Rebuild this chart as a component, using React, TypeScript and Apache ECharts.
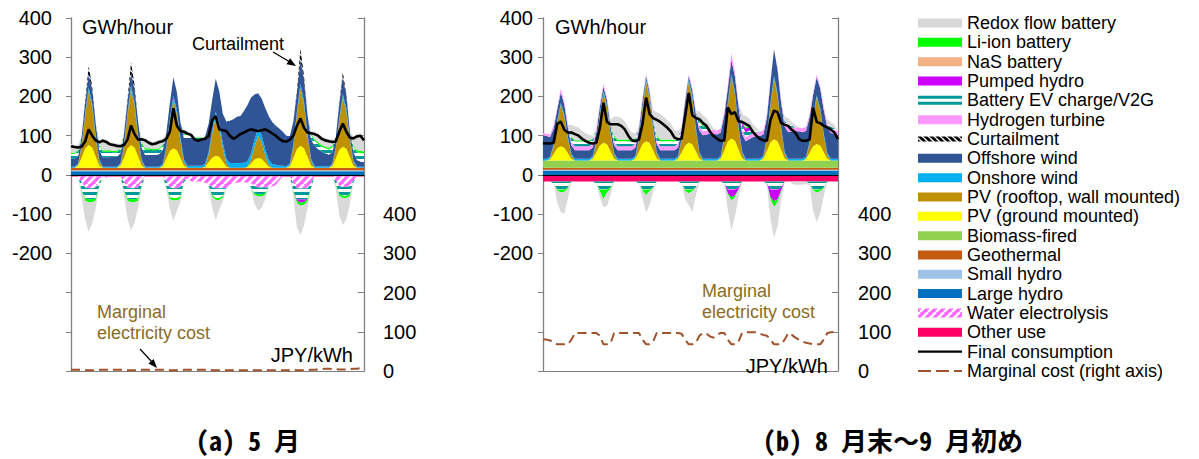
import React, { useEffect, useRef } from 'react';
import * as echarts from 'echarts';

// ---------- categories: hour of the week (2-hour steps, odd hours) ----------
const hours: string[] = Array.from({ length: 84 }, (_, i) => String(2 * i + 1));

// ---------- Panel (a) May, GWh/hour ----------
const aLargeHydro = [
  9,9,9,9,9,9,9,9,9,9,9,9, 9,9,9,9,9,9,9,9,9,9,9,9, 9,9,9,9,9,9,9,9,9,9,9,9,
  9,9,9,9,9,9,9,9,9,9,9,9, 9,9,9,9,9,9,9,9,9,9,9,9, 9,9,9,9,9,9,9,9,9,9,9,9,
  9,9,9,9,9,9,9,9,9,9,9,9,
];
const aSmallHydro = [
  3,3,3,3,3,3,3,3,3,3,3,3, 3,3,3,3,3,3,3,3,3,3,3,3, 3,3,3,3,3,3,3,3,3,3,3,3,
  3,3,3,3,3,3,3,3,3,3,3,3, 3,3,3,3,3,3,3,3,3,3,3,3, 3,3,3,3,3,3,3,3,3,3,3,3,
  3,3,3,3,3,3,3,3,3,3,3,3,
];
const aGeothermal = [
  6,6,6,6,6,6,6,6,6,6,6,6, 6,6,6,6,6,6,6,6,6,6,6,6, 6,6,6,6,6,6,6,6,6,6,6,6,
  6,6,6,6,6,6,6,6,6,6,6,6, 6,6,6,6,6,6,6,6,6,6,6,6, 6,6,6,6,6,6,6,6,6,6,6,6,
  6,6,6,6,6,6,6,6,6,6,6,6,
];
const aPvGround = [
  0,0,5,26,49,58,52,29,6,0,0,0,
  0,0,5,26,49,58,52,29,6,0,0,0,
  0,0,4,23,43,50,45,25,5,0,0,0,
  0,0,2,14,26,31,28,16,3,0,0,0,
  0,0,2,11,21,25,23,13,3,0,0,0,
  0,0,4,25,48,56,50,28,6,0,0,0,
  0,0,4,24,46,54,49,27,5,0,0,0,
];
const aPvRoof = [
  0,0,3,28,83,138,104,48,11,0,0,0,
  0,0,3,28,85,142,107,50,11,0,0,0,
  0,0,2,25,74,124,93,43,10,0,0,0,
  0,0,2,20,60,100,75,35,8,0,0,0,
  0,0,1,11,34,57,43,20,5,0,0,0,
  0,0,3,30,89,148,111,52,12,0,0,0,
  0,0,3,25,75,125,94,44,10,0,0,0,
];
const aOnshore = [
  3,3,3,4,6,9,8,6,4,3,3,3,
  3,3,3,4,6,9,8,6,4,3,3,3,
  3,3,4,5,7,10,10,8,6,5,5,5,
  5,5,6,7,9,12,12,12,12,12,12,12,
  12,13,14,15,17,18,17,15,13,10,8,6,
  5,4,4,5,7,10,9,7,5,4,4,4,
  4,3,3,4,6,9,8,6,4,3,3,3,
];
const aOffshore = [
  20,20,20,22,26,34,36,30,25,24,24,24,
  25,25,26,27,29,32,34,33,31,30,30,30,
  30,32,34,36,40,47,45,40,55,72,72,70,
  68,68,70,72,78,84,80,75,95,108,112,118,
  120,132,143,142,115,90,94,105,111,107,99,94,
  87,78,70,59,48,62,55,48,50,52,44,37,
  33,31,29,25,36,45,34,16,22,17,13,12,
];
const aCurtail = [
  0,0,0,0,5,20,8,0,0,0,0,0,
  0,0,0,0,6,28,10,0,0,0,0,0,
  0,0,0,0,0,0,0,0,0,0,0,0,
  0,0,0,0,0,0,0,0,0,0,0,0,
  0,0,0,0,0,0,0,0,0,0,0,0,
  0,0,0,0,6,28,10,0,0,0,0,0,
  0,0,0,0,3,10,4,0,0,0,0,0,
];
const aEvPos = [
  12,12,12,0,0,0,0,0,10,14,14,14,
  12,12,12,0,0,0,0,0,10,13,13,12,
  12,12,12,0,0,0,0,0,8,8,7,2,
  4,4,0,0,0,0,0,0,0,0,0,0,
  0,0,0,0,0,0,0,0,0,0,0,0,
  0,0,0,0,0,0,0,0,10,13,13,13,
  13,13,13,0,0,0,0,0,12,20,22,22,
];
const aLiPos = [
  3,3,3,0,0,0,0,0,3,4,4,4,
  3,3,3,0,0,0,0,0,3,4,4,3,
  3,3,3,0,0,0,0,0,3,3,2,1,
  1,1,0,0,0,0,0,0,0,0,0,0,
  0,0,0,0,0,0,0,0,0,0,0,0,
  0,0,0,0,0,0,0,0,3,4,4,4,
  4,4,4,0,0,0,0,0,3,5,5,5,
];
const aRedoxPos = [
  23,21,12,0,0,0,0,0,11,30,27,21,
  21,19,9,0,0,0,0,0,13,26,20,18,
  20,22,15,0,0,0,0,0,10,5,4,0,
  2,1,0,0,0,0,0,0,0,0,0,0,
  0,0,0,0,0,0,0,0,0,0,0,0,
  0,0,0,0,0,0,0,0,7,19,23,22,
  22,23,16,0,0,0,0,0,24,41,45,34,
];
const aOtherUse = [
  -4,-4,-4,-4,-4,-4,-4,-4,-4,-4,-4,-4, -4,-4,-4,-4,-4,-4,-4,-4,-4,-4,-4,-4,
  -4,-4,-4,-4,-4,-4,-4,-4,-4,-4,-4,-4, -4,-4,-4,-4,-4,-4,-4,-4,-4,-4,-4,-4,
  -4,-4,-4,-4,-4,-4,-4,-4,-4,-4,-4,-4, -4,-4,-4,-4,-4,-4,-4,-4,-4,-4,-4,-4,
  -4,-4,-4,-4,-4,-4,-4,-4,-4,-4,-4,-4,
];
const aElectrolysis = [
  0,0,0,-15,-28,-30,-30,-28,-15,0,-3,0,
  0,0,0,-15,-28,-30,-30,-28,-15,0,0,0,
  0,0,0,-12,-28,-30,-30,-26,-10,-5,-12,-15,
  -12,-14,-16,-20,-28,-30,-30,-30,-30,-25,-18,-16,
  -15,-15,-16,-18,-25,-28,-28,-28,-28,-26,-22,-10,
  0,0,0,-18,-30,-31,-31,-30,-18,0,0,0,
  0,0,0,-10,-25,-27,-27,-25,-10,0,0,0,
];
const aEvNeg = [
  0,0,0,-20,-28,-28,-28,-28,-10,0,0,0,
  0,0,0,-20,-28,-28,-28,-28,-10,0,0,0,
  0,0,0,-15,-25,-25,-25,-25,-5,0,0,0,
  0,0,0,-5,-20,-25,-25,-20,0,0,0,0,
  0,0,0,-10,-18,-18,-18,-15,0,0,0,0,
  0,0,0,-20,-28,-28,-28,-28,-10,0,0,0,
  0,0,0,-10,-20,-22,-22,-20,-5,0,0,0,
];
const aPumpNeg = [
  0,0,0,0,0,0,0,0,0,0,0,0,
  0,0,0,0,0,0,0,0,0,0,0,0,
  0,0,0,0,0,0,0,0,0,0,0,0,
  0,0,0,0,0,0,0,0,0,0,0,0,
  0,0,0,0,0,0,0,0,0,0,0,0,
  0,0,0,0,-4,-8,-6,0,0,0,0,0,
  0,0,0,0,0,0,0,0,0,0,0,0,
];
const aLiNeg = [
  0,0,0,-3,-6,-8,-8,-6,-2,0,0,0,
  0,0,0,-3,-6,-8,-8,-6,-2,0,0,0,
  0,0,0,-2,-5,-6,-6,-5,0,0,0,0,
  0,0,0,0,-4,-5,-5,-4,0,0,0,0,
  0,0,0,0,-4,-5,-5,-4,0,0,0,0,
  0,0,0,-3,-6,-8,-8,-6,-2,0,0,0,
  0,0,0,-2,-5,-6,-6,-5,0,0,0,0,
];
const aRedoxNeg = [
  0,0,0,-15,-48,-75,-54,-20,0,0,0,0,
  0,0,0,-12,-45,-72,-52,-18,0,0,0,0,
  0,0,0,-5,-23,-52,-26,-10,0,0,0,0,
  0,0,0,0,-27,-51,-25,-10,0,0,0,0,
  0,0,0,-5,-24,-35,-29,-12,0,0,0,0,
  0,0,0,-12,-62,-74,-52,-16,0,0,0,0,
  0,0,0,-8,-50,-69,-55,-20,0,0,0,0,
];
const aConsumption = [
  73,71,70,72,85,116,100,88,83,87,84,78,
  76,74,73,76,90,126,104,90,91,88,82,78,
  80,84,86,92,110,170,125,112,110,105,102,90,
  87,90,92,100,140,150,116,114,112,100,92,97,
  104,108,113,116,114,112,114,116,112,106,100,92,
  86,85,90,100,125,144,120,108,106,104,100,92,
  88,86,84,85,110,131,110,95,93,98,100,88,
];
const aMarginal = [
  3,3,3,3,2,2,2,2,3,3,3,3,
  3,3,3,3,2,2,2,2,3,3,3,3,
  3,3,3,3,2,2,2,2,3,3,3,3,
  3,3,3,3,2,2,2,2,2,2,2,2,
  2,2,2,2,2,2,2,2,2,2,2,2,
  2,2,2,3,2,2,2,2,3,3,4,5,
  6,6,5,5,4,4,4,5,6,6,7,7,
];

// ---------- Panel (b) end of Aug - early Sep, GWh/hour ----------
const bLargeHydro = [
  10,10,10,10,10,10,10,10,10,10,10,10, 10,10,10,10,10,10,10,10,10,10,10,10,
  10,10,10,10,10,10,10,10,10,10,10,10, 10,10,10,10,10,10,10,10,10,10,10,10,
  10,10,10,10,10,10,10,10,10,10,10,10, 10,10,10,10,10,10,10,10,10,10,10,10,
  10,10,10,10,10,10,10,10,10,10,10,10,
];
const bSmallHydro = [
  3,3,3,3,3,3,3,3,3,3,3,3, 3,3,3,3,3,3,3,3,3,3,3,3, 3,3,3,3,3,3,3,3,3,3,3,3,
  3,3,3,3,3,3,3,3,3,3,3,3, 3,3,3,3,3,3,3,3,3,3,3,3, 3,3,3,3,3,3,3,3,3,3,3,3,
  3,3,3,3,3,3,3,3,3,3,3,3,
];
const bGeothermal = [
  5,5,5,5,5,5,5,5,5,5,5,5, 5,5,5,5,5,5,5,5,5,5,5,5, 5,5,5,5,5,5,5,5,5,5,5,5,
  5,5,5,5,5,5,5,5,5,5,5,5, 5,5,5,5,5,5,5,5,5,5,5,5, 5,5,5,5,5,5,5,5,5,5,5,5,
  5,5,5,5,5,5,5,5,5,5,5,5,
];
const bBiomass = [
  19,19,19,19,19,19,19,19,19,19,19,19, 19,19,19,19,19,19,19,19,19,19,19,19,
  19,19,19,19,19,19,19,19,19,19,19,19, 19,19,19,19,19,19,19,19,19,19,19,19,
  19,19,19,19,19,19,19,19,19,19,19,19, 19,19,19,19,19,19,19,19,19,19,19,19,
  19,19,19,19,19,19,19,19,19,19,19,19,
];
const bPvGround = [
  0,0,3,16,31,36,32,18,4,0,0,0,
  0,0,4,20,38,45,41,23,5,0,0,0,
  0,0,4,22,42,49,44,25,5,0,0,0,
  0,0,4,20,38,45,41,23,5,0,0,0,
  0,0,4,25,48,56,50,28,6,0,0,0,
  0,0,4,24,46,54,49,27,5,0,0,0,
  0,0,3,19,36,42,38,21,4,0,0,0,
];
const bPvRoof = [
  0,0,2,21,63,105,79,37,8,0,0,0,
  0,0,3,25,76,126,95,44,10,0,0,0,
  0,0,3,30,91,152,114,53,12,0,0,0,
  0,0,3,31,94,156,117,55,12,0,0,0,
  0,0,3,31,94,157,118,55,13,0,0,0,
  0,0,3,31,93,155,116,54,12,0,0,0,
  0,0,2,24,71,119,89,42,10,0,0,0,
];
const bOnshore = [
  4,4,4,4,5,6,6,5,4,4,4,4,
  4,4,4,4,5,6,6,5,4,4,4,4,
  4,4,4,4,5,6,6,5,4,4,4,4,
  4,4,4,4,5,6,6,5,4,4,4,4,
  4,4,4,4,6,7,6,5,4,4,4,4,
  4,4,4,4,6,7,6,5,4,4,4,4,
  4,4,4,4,5,6,6,5,4,4,4,4,
];
const bOffshore = [
  60,58,50,40,30,26,25,24,22,22,22,22,
  22,22,22,22,18,11,12,15,20,22,22,22,
  22,22,22,22,15,8,10,15,20,22,22,22,
  22,22,22,22,15,8,15,35,55,60,62,64,
  64,62,60,55,35,35,40,50,45,45,50,55,
  58,58,55,50,55,67,60,60,65,68,70,70,
  70,68,66,62,55,45,50,60,65,66,64,60,
];
const bHydrogen = [
  6,6,7,8,6,10,8,6,8,10,10,10,
  10,10,10,9,6,6,6,6,8,10,10,10,
  10,10,10,9,6,5,6,6,8,10,10,10,
  10,10,10,9,6,4,6,8,10,10,10,10,
  10,10,10,8,8,18,10,8,10,10,10,10,
  10,10,10,8,5,0,3,8,10,10,10,10,
  10,10,10,8,6,7,6,8,10,10,10,10,
];
const bEvPos = [
  0,0,0,0,0,0,0,0,12,12,12,12,
  12,12,10,0,0,0,0,0,13,13,13,13,
  13,12,12,0,0,0,0,3,12,13,13,13,
  13,12,12,0,0,0,0,0,12,12,10,2,
  0,0,0,0,0,0,0,0,12,12,12,8,
  3,0,0,0,0,0,0,0,5,10,5,0,
  0,0,0,0,0,0,0,0,0,6,4,0,
];
const bPumpPos = [
  0,0,0,0,0,0,0,0,0,0,0,0,
  0,0,0,0,0,0,0,0,0,0,0,0,
  0,0,0,0,0,0,0,0,0,0,0,0,
  0,0,0,0,0,0,0,0,0,0,0,0,
  0,0,0,0,0,0,0,0,6,10,8,0,
  0,0,0,0,0,0,0,0,0,0,0,0,
  0,0,0,0,0,0,0,0,0,0,0,0,
];
const bLiPos = [
  0,0,0,0,0,0,0,0,3,3,3,3,
  3,3,2,0,0,0,0,0,4,4,4,4,
  4,3,3,0,0,0,0,0,3,4,4,4,
  4,3,3,0,0,0,0,0,3,3,3,1,
  0,0,0,0,0,0,0,0,3,3,3,2,
  0,0,0,0,0,0,0,0,0,0,0,0,
  0,0,0,0,0,0,0,0,0,0,0,0,
];
const bRedoxPos = [
  0,0,0,0,0,0,0,0,30,36,32,24,
  18,14,8,0,0,0,0,10,48,59,55,46,
  30,20,11,0,0,0,0,21,59,65,58,50,
  40,27,16,0,0,0,0,0,24,26,19,12,
  4,0,0,0,0,0,0,0,19,29,21,14,
  8,3,0,0,0,0,0,0,10,16,9,7,
  0,0,0,0,0,0,0,0,11,12,9,0,
];
const bOtherUse = [
  -17,-17,-17,-17,-17,-17,-17,-17,-17,-17,-17,-17, -17,-17,-17,-17,-17,-17,-17,-17,-17,-17,-17,-17,
  -17,-17,-17,-17,-17,-17,-17,-17,-17,-17,-17,-17, -17,-17,-17,-17,-17,-17,-17,-17,-17,-17,-17,-17,
  -17,-17,-17,-17,-17,-17,-17,-17,-17,-17,-17,-17, -17,-17,-17,-17,-17,-17,-17,-17,-17,-17,-17,-17,
  -17,-17,-17,-17,-17,-17,-17,-17,-17,-17,-17,-17,
];
const bEvNeg = [
  0,0,0,-5,-20,-20,-20,-15,0,0,0,0,
  0,0,0,-5,-20,-20,-20,-15,0,0,0,0,
  0,0,0,-5,-20,-20,-20,-15,0,0,0,0,
  0,0,0,-5,-20,-20,-20,-15,0,0,0,0,
  0,0,0,-5,-20,-20,-20,-15,0,0,0,0,
  0,0,0,-5,-20,-20,-20,-15,0,0,0,0,
  0,0,0,-5,-20,-20,-20,-15,0,0,0,0,
];
const bPumpNeg = [
  0,0,0,0,0,0,0,0,0,0,0,0,
  0,0,0,0,0,0,0,0,0,0,0,0,
  0,0,0,0,0,0,0,0,0,0,0,0,
  0,0,0,0,0,0,0,0,0,0,0,0,
  0,0,0,0,-10,-20,-15,-5,0,0,0,0,
  0,0,0,0,-20,-30,-25,-8,0,0,0,0,
  0,0,0,0,0,0,0,0,0,0,0,0,
];
const bLiNeg = [
  0,0,0,0,-3,-8,-6,-3,0,0,0,0,
  0,0,0,0,-5,-25,-8,-3,0,0,0,0,
  0,0,0,0,-3,-15,-5,0,0,0,0,0,
  0,0,0,0,-5,-10,-5,0,0,0,0,0,
  0,0,0,0,-3,-8,-5,0,0,0,0,0,
  0,0,0,0,-5,-15,-8,-3,0,0,0,0,
  0,0,0,0,-3,-8,-5,-2,0,0,0,0,
];
const bRedoxNeg = [
  0,0,0,0,-30,-50,-56,-25,0,0,0,0,
  0,0,0,0,-15,-20,-35,-15,0,0,0,0,
  0,0,0,0,-20,-43,-35,-10,0,0,0,0,
  0,0,0,0,-20,-30,-53,-20,0,0,0,0,
  0,0,0,0,-40,-76,-50,-20,0,0,0,0,
  0,0,0,-5,-50,-79,-60,-20,0,0,-5,-8,
  -8,-8,-6,-5,-50,-75,-55,-20,0,0,0,0,
];
const bConsumption = [
  81,80,80,82,130,136,115,108,108,104,100,92,
  86,82,80,82,120,184,135,129,129,129,125,116,
  100,88,86,90,130,197,155,145,140,135,128,120,
  110,95,91,92,150,209,152,145,142,132,125,110,
  99,92,87,88,172,155,160,137,135,130,125,110,
  100,92,88,87,140,164,160,132,128,125,115,108,
  92,87,87,90,171,135,132,125,121,115,108,91,
];
const bMarginal = [
  80,80,78,72,68,68,68,68,80,97,97,97,
  97,97,97,97,90,68,68,70,97,97,97,97,
  97,97,97,97,80,68,68,75,97,97,97,97,
  97,97,97,95,80,68,68,72,90,97,95,88,
  85,92,97,97,80,68,68,75,97,99,99,99,
  99,95,92,90,80,68,68,68,80,97,92,85,
  80,75,72,70,68,68,68,80,97,99,99,99,
];

// ---------- legend labels ----------
const legendLabels = [
  'Redox flow battery', 'Li-ion battery', 'NaS battery', 'Pumped hydro',
  'Battery EV charge/V2G', 'Hydrogen turbine', 'Curtailment', 'Offshore wind',
  'Onshore wind', 'PV (rooftop, wall mounted)', 'PV (ground mounted)', 'Biomass-fired',
  'Geothermal', 'Small hydro', 'Large hydro', 'Water electrolysis', 'Other use',
  'Final consumption', 'Marginal cost (right axis)',
];

const C = {
  redox: '#D9D9D9', li: '#00FF00', nas: '#F4B183', pump: '#CC00FF', ev: '#009999',
  h2: '#FF99FF', off: '#2F5597', on: '#00B0F0', pvr: '#BF9000', pvg: '#FFFF00',
  bio: '#92D050', geo: '#C55A11', sh: '#9DC3E6', lh: '#0070C0', elec: '#FF66FF',
  other: '#FF0066', mc: '#A0522D',
};

const FONT = '"Liberation Sans", Arial, sans-serif';

function makePattern(kind: string): any {
  const c = document.createElement('canvas');
  const ctx = c.getContext('2d') as CanvasRenderingContext2D;
  if (kind === 'ev') {
    c.width = 4; c.height = 6;
    ctx.fillStyle = '#ffffff'; ctx.fillRect(0, 0, 4, 6);
    ctx.fillStyle = C.ev; ctx.fillRect(0, 0, 4, 3);
  } else if (kind === 'elec') {
    c.width = 8; c.height = 8;
    ctx.fillStyle = C.elec; ctx.fillRect(0, 0, 8, 8);
    ctx.strokeStyle = '#ffffff'; ctx.lineWidth = 2.6;
    for (let k = -8; k <= 16; k += 8) {
      ctx.beginPath(); ctx.moveTo(k, 8); ctx.lineTo(k + 8, 0); ctx.stroke();
    }
  } else {
    c.width = 6; c.height = 6;
    ctx.fillStyle = '#000000'; ctx.fillRect(0, 0, 6, 6);
    ctx.strokeStyle = '#ffffff'; ctx.lineWidth = 1.4;
    for (let k = -6; k <= 12; k += 6) {
      ctx.beginPath(); ctx.moveTo(k, 0); ctx.lineTo(k + 6, 6); ctx.stroke();
    }
  }
  return { image: c, repeat: 'repeat', imageWidth: c.width, imageHeight: c.height };
}

function buildOption() {
  const pEv = makePattern('ev');
  const pElec = makePattern('elec');
  const pCur = makePattern('curtail');

  type Band = [string, number[], any, string];
  const bandsA: Band[] = [
    ['Large hydro', aLargeHydro, C.lh, 'pos'],
    ['Small hydro', aSmallHydro, C.sh, 'pos'],
    ['Geothermal', aGeothermal, C.geo, 'pos'],
    ['PV (ground mounted)', aPvGround, C.pvg, 'pos'],
    ['PV (rooftop, wall mounted)', aPvRoof, C.pvr, 'pos'],
    ['Onshore wind', aOnshore, C.on, 'pos'],
    ['Offshore wind', aOffshore, C.off, 'pos'],
    ['Curtailment', aCurtail, pCur, 'pos'],
    ['Battery EV charge/V2G', aEvPos, pEv, 'pos'],
    ['Li-ion battery', aLiPos, C.li, 'pos'],
    ['Redox flow battery', aRedoxPos, C.redox, 'pos'],
    ['Other use', aOtherUse, C.other, 'neg'],
    ['Water electrolysis', aElectrolysis, pElec, 'neg'],
    ['Battery EV charge/V2G', aEvNeg, pEv, 'neg'],
    ['Pumped hydro', aPumpNeg, C.pump, 'neg'],
    ['Li-ion battery', aLiNeg, C.li, 'neg'],
    ['Redox flow battery', aRedoxNeg, C.redox, 'neg'],
  ];
  const bandsB: Band[] = [
    ['Large hydro', bLargeHydro, C.lh, 'pos'],
    ['Small hydro', bSmallHydro, C.sh, 'pos'],
    ['Geothermal', bGeothermal, C.geo, 'pos'],
    ['Biomass-fired', bBiomass, C.bio, 'pos'],
    ['PV (ground mounted)', bPvGround, C.pvg, 'pos'],
    ['PV (rooftop, wall mounted)', bPvRoof, C.pvr, 'pos'],
    ['Onshore wind', bOnshore, C.on, 'pos'],
    ['Offshore wind', bOffshore, C.off, 'pos'],
    ['Hydrogen turbine', bHydrogen, C.h2, 'pos'],
    ['Battery EV charge/V2G', bEvPos, pEv, 'pos'],
    ['Pumped hydro', bPumpPos, C.pump, 'pos'],
    ['Li-ion battery', bLiPos, C.li, 'pos'],
    ['Redox flow battery', bRedoxPos, C.redox, 'pos'],
    ['Other use', bOtherUse, C.other, 'neg'],
    ['Battery EV charge/V2G', bEvNeg, pEv, 'neg'],
    ['Pumped hydro', bPumpNeg, C.pump, 'neg'],
    ['Li-ion battery', bLiNeg, C.li, 'neg'],
    ['Redox flow battery', bRedoxNeg, C.redox, 'neg'],
  ];

  const panelSeries = (p: number, bands: Band[], cons: number[], mc: number[]) => {
    const xi = p * 2;
    const yi = p * 2;
    const out: any[] = bands.map(([name, data, color, stack]) => ({
      name, type: 'line', xAxisIndex: xi, yAxisIndex: yi, stack: stack + p,
      data, symbol: 'none', silent: true, z: 2,
      lineStyle: { width: 0, opacity: 0 },
      areaStyle: { color, opacity: 1 },
    }));
    out.push({
      name: 'Final consumption', type: 'line', xAxisIndex: xi, yAxisIndex: yi, data: cons,
      symbol: 'none', silent: true, z: 5, lineStyle: { color: '#000', width: 2.6 },
    });
    out.push({
      name: 'Marginal cost (right axis)', type: 'line', xAxisIndex: xi, yAxisIndex: yi + 1, data: mc,
      symbol: 'none', silent: true, z: 5, lineStyle: { color: C.mc, width: 2, type: [9, 5] },
    });
    return out;
  };

  const grids = [
    { left: 71, top: 18, width: 293, height: 353 },
    { left: 543, top: 18, width: 295, height: 353 },
  ];
  const xAxes: any[] = [];
  const yAxes: any[] = [];
  const lblMargins = [[19, 19], [10, 20]];
  [0, 1].forEach((g) => {
    xAxes.push({
      gridIndex: g, type: 'category', data: hours, boundaryGap: false, z: 10,
      axisLine: { onZero: true, onZeroAxisIndex: g * 2, lineStyle: { color: '#000', width: 1 } },
      axisTick: { show: false }, axisLabel: { show: false }, splitLine: { show: false },
    });
    xAxes.push({
      gridIndex: g, type: 'category', data: hours, boundaryGap: false, position: 'bottom',
      axisLine: { onZero: false, lineStyle: { color: '#808080', width: 1 } },
      axisTick: { show: false }, axisLabel: { show: false }, splitLine: { show: false },
    });
    yAxes.push({
      gridIndex: g, type: 'value', min: -500, max: 400, interval: 100, position: 'left',
      axisLine: { show: true, lineStyle: { color: '#808080', width: 1.3 } },
      axisTick: { show: true, length: 5, lineStyle: { color: '#808080' } },
      splitLine: { show: false },
      axisLabel: {
        color: '#000', fontSize: 20, fontFamily: FONT, margin: lblMargins[g][0],
        formatter: (v: number) => (v >= -200 ? String(v) : ''),
      },
    });
    yAxes.push({
      gridIndex: g, type: 'value', min: 0, max: 900, interval: 100, position: 'right',
      axisLine: { show: true, lineStyle: { color: '#808080', width: 1.3 } },
      axisTick: { show: true, inside: true, length: 6, lineStyle: { color: '#808080' } },
      splitLine: { show: false },
      axisLabel: {
        color: '#000', fontSize: 20, fontFamily: FONT, margin: lblMargins[g][1],
        formatter: (v: number) => (v <= 400 ? String(v) : ''),
      },
    });
  });

  // ---------- graphic: annotations, legend, titles ----------
  const els: any[] = [];
  const txt = (x: number, y: number, text: string, size: number, color = '#000', align = 'left', font = FONT, weight = 'normal') => ({
    type: 'text', x, y, z: 100, silent: true,
    style: {
      text, fill: color, font: `${weight} ${size}px ${font}`,
      textAlign: align, textVerticalAlign: 'middle',
    },
  });
  els.push(txt(82, 27, 'GWh/hour', 20));
  els.push(txt(555, 27, 'GWh/hour', 20));
  els.push(txt(192, 44, 'Curtailment', 18));
  els.push({ type: 'line', z: 100, silent: true, shape: { x1: 273, y1: 52, x2: 290, y2: 62 }, style: { stroke: '#000', lineWidth: 1.2 } });
  els.push({ type: 'polygon', z: 100, silent: true, shape: { points: [[296, 66], [286.5, 64.3], [290.1, 58.3]] }, style: { fill: '#000' } });
  const mcTxt = '#8C6C1E';
  els.push(txt(97, 312, 'Marginal', 18, mcTxt));
  els.push(txt(97, 333, 'electricity cost', 18, mcTxt));
  els.push({ type: 'line', z: 100, silent: true, shape: { x1: 140, y1: 349, x2: 152, y2: 362 }, style: { stroke: '#000', lineWidth: 1.2 } });
  els.push({ type: 'polygon', z: 100, silent: true, shape: { points: [[157, 368], [148.4, 363.6], [153.6, 359]] }, style: { fill: '#000' } });
  els.push(txt(353, 355, 'JPY/kWh', 20, '#000', 'right'));
  els.push(txt(702, 291, 'Marginal', 18, mcTxt));
  els.push(txt(702, 312, 'electricity cost', 18, mcTxt));
  els.push(txt(828, 366, 'JPY/kWh', 20, '#000', 'right'));

  // legend
  const sw = (i: number) => 23 + i * 19.33;
  const lx = 918;
  const swW = 44;
  const solid: Record<number, string> = {
    0: C.redox, 1: C.li, 2: C.nas, 3: C.pump, 5: C.h2, 7: C.off, 8: C.on, 9: C.pvr,
    10: C.pvg, 11: C.bio, 12: C.geo, 13: C.sh, 14: C.lh, 16: C.other,
  };
  legendLabels.forEach((label, i) => {
    const cy = sw(i);
    if (solid[i]) {
      els.push({ type: 'rect', z: 100, silent: true, shape: { x: lx, y: cy - 4.5, width: swW, height: 9 }, style: { fill: solid[i] } });
    } else if (i === 4) {
      els.push({ type: 'rect', z: 100, silent: true, shape: { x: lx, y: cy - 4.5, width: swW, height: 3 }, style: { fill: C.ev } });
      els.push({ type: 'rect', z: 100, silent: true, shape: { x: lx, y: cy + 1.5, width: swW, height: 3 }, style: { fill: C.ev } });
    } else if (i === 6) {
      els.push({ type: 'rect', z: 100, silent: true, shape: { x: lx, y: cy - 2.5, width: swW, height: 5 }, style: { fill: pCur } });
    } else if (i === 15) {
      els.push({ type: 'rect', z: 100, silent: true, shape: { x: lx, y: cy - 4.5, width: swW, height: 9 }, style: { fill: pElec } });
    } else if (i === 17) {
      els.push({ type: 'line', z: 100, silent: true, shape: { x1: lx, y1: cy, x2: lx + swW, y2: cy }, style: { stroke: '#000', lineWidth: 2.2 } });
    } else if (i === 18) {
      els.push({ type: 'line', z: 100, silent: true, shape: { x1: lx, y1: cy, x2: lx + swW, y2: cy }, style: { stroke: C.mc, lineWidth: 2, lineDash: [13, 5] } });
    }
    els.push(txt(967, cy, label, 18));
  });

  // titles
  const tFont = '"Noto Sans Mono CJK JP", "Noto Sans CJK JP", sans-serif';
  els.push(txt(248, 439, '(a) 5 月', 26, '#000', 'center', tFont, 'bold'));
  els.push(txt(893, 439, '(b) 8 月末～9 月初め', 26, '#000', 'center', tFont, 'bold'));

  return {
    animation: false,
    backgroundColor: '#ffffff',
    grid: grids,
    xAxis: xAxes,
    yAxis: yAxes,
    series: [
      ...panelSeries(0, bandsA, aConsumption, aMarginal),
      ...panelSeries(1, bandsB, bConsumption, bMarginal),
    ],
    graphic: { elements: els },
  };
}

export default function App() {
  const ref = useRef<HTMLDivElement>(null);
  useEffect(() => {
    if (!ref.current) return;
    const chart = echarts.init(ref.current, null, { renderer: 'svg' });
    chart.setOption(buildOption() as any);
    return () => chart.dispose();
  }, []);
  return (
    <div
      ref={ref}
      style={{ position: 'fixed', left: 0, top: 0, width: 1199, height: 459, background: '#fff' }}
    />
  );
}
